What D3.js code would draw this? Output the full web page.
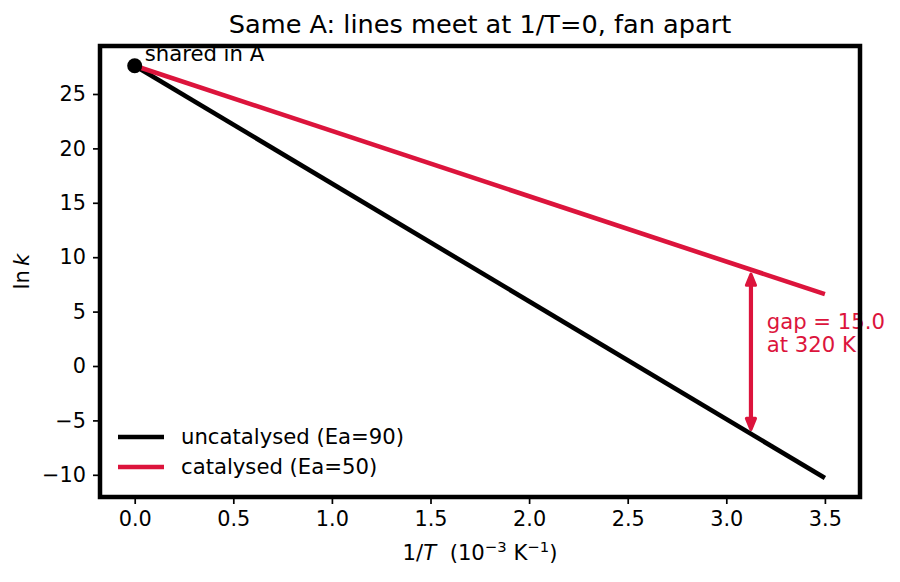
<!DOCTYPE html>
<html>
<head>
<meta charset="utf-8">
<script src="https://cdn.jsdelivr.net/npm/d3@7"></script>
<style>
html, body { margin: 0; padding: 0; background: #fff; }
svg text { font-family: "DejaVu Sans", sans-serif; }
</style>
</head>
<body>
<svg id="chart" width="900" height="582"></svg>
<script>
// ---- data ----
const invT = [0, 3.5];                 // 1/T (10^-3 K^-1)
const lnkUncat = [27.6, -10.3];        // uncatalysed (Ea=90)
const lnkCat = [27.6, 6.6];            // catalysed (Ea=50)
const seriesNames = ["uncatalysed (Ea=90)", "catalysed (Ea=50)"];
const sharedPoint = [0, 27.6];
const gapX = 3.125;                    // 320 K
const gapTop = 8.8;
const gapBottom = -6.2;
const gapLabel = ["gap = 15.0", "at 320 K"];
const labelX = 3.2;
const xTicks = [0, 0.5, 1.0, 1.5, 2.0, 2.5, 3.0, 3.5];
const yTicks = [-10, -5, 0, 5, 10, 15, 20, 25];

const black = "#000000", crimson = "#DC143C";
const svg = d3.select("#chart");
const L = 100, R = 860, T = 46, B = 497;
const FS = 21.2;

const x = d3.scaleLinear().domain([-0.176, 3.678]).range([L, R]);
const y = d3.scaleLinear().domain([-12.04, 29.41]).range([B, T]);

// title
svg.append("text").attr("x", (L + R) / 2).attr("y", 33)
  .attr("text-anchor", "middle").attr("font-size", 25.6)
  .text("Same A: lines meet at 1/T=0, fan apart");

// axes
const xAxis = d3.axisBottom(x).tickValues(xTicks).tickFormat(d3.format(".1f"))
  .tickSizeOuter(0).tickSize(7).tickPadding(7);
const yAxis = d3.axisLeft(y).tickValues(yTicks).tickFormat(d => d < 0 ? "\u2212" + Math.abs(d) : d)
  .tickSizeOuter(0).tickSize(7).tickPadding(7);
const gx = svg.append("g").attr("transform", `translate(0,${B})`).call(xAxis);
const gy = svg.append("g").attr("transform", `translate(${L},0)`).call(yAxis);
[gx, gy].forEach(g => {
  g.select(".domain").remove();
  g.selectAll(".tick line").attr("stroke", black).attr("stroke-width", 1.7);
  g.selectAll(".tick text").attr("font-size", 20.8).attr("fill", black)
    .style("font-family", '"DejaVu Sans", sans-serif');
});

// axis labels
const xl = svg.append("text").attr("x", (L + R) / 2).attr("y", 560)
  .attr("text-anchor", "middle").attr("font-size", FS);
xl.append("tspan").text("1/");
xl.append("tspan").attr("font-style", "italic").text("T");
xl.append("tspan").text("\u00a0\u00a0(10");
xl.append("tspan").attr("font-size", 14.8).attr("dy", -8).text("\u22123");
xl.append("tspan").attr("dy", 8).text(" K");
xl.append("tspan").attr("font-size", 14.8).attr("dy", -8).text("\u22121");
xl.append("tspan").attr("dy", 8).text(")");

const yl = svg.append("text").attr("transform", `translate(29,${(T + B) / 2}) rotate(-90)`)
  .attr("text-anchor", "middle").attr("font-size", FS);
yl.append("tspan").text("ln\u2009");
yl.append("tspan").attr("font-style", "italic").text("k");

// lines
const line = d3.line().x(d => x(d[0])).y(d => y(d[1]));
const dUncat = invT.map((v, i) => [v, lnkUncat[i]]);
const dCat = invT.map((v, i) => [v, lnkCat[i]]);
svg.append("path").datum(dUncat).attr("d", line).attr("fill", "none")
  .attr("stroke", black).attr("stroke-width", 4.6);
svg.append("path").datum(dCat).attr("d", line).attr("fill", "none")
  .attr("stroke", crimson).attr("stroke-width", 4.6);

// shared point
svg.append("circle").attr("cx", x(sharedPoint[0])).attr("cy", y(sharedPoint[1]))
  .attr("r", 7.5).attr("fill", black);
svg.append("text").attr("x", x(sharedPoint[0]) + 10).attr("y", 61)
  .attr("font-size", FS).text("shared in A");

// gap arrow
const ax = x(gapX), yt = y(gapTop) + 4, yb = y(gapBottom) - 4;
svg.append("line").attr("x1", ax).attr("x2", ax).attr("y1", yt + 6).attr("y2", yb - 6)
  .attr("stroke", crimson).attr("stroke-width", 4.2);
const head = (tip, dir) => `M${ax - 4.5},${tip + dir * 11}L${ax},${tip}L${ax + 4.5},${tip + dir * 11}Z`;
[[yt, 1], [yb, -1]].forEach(([t, d]) => {
  svg.append("path").attr("d", head(t, d)).attr("fill", crimson)
    .attr("stroke", crimson).attr("stroke-width", 3.2).attr("stroke-linejoin", "round");
});
const gl = svg.append("text").attr("x", x(labelX)).attr("font-size", FS).attr("fill", crimson);
gapLabel.forEach((t, i) => {
  gl.append("tspan").attr("x", x(labelX) + 1).attr("y", 329 + i * 23).text(t);
});

// legend
const leg = svg.append("g");
[[seriesNames[0], black, 437], [seriesNames[1], crimson, 467]].forEach(([name, c, yy]) => {
  leg.append("line").attr("x1", 118).attr("x2", 164).attr("y1", yy).attr("y2", yy)
    .attr("stroke", c).attr("stroke-width", 4.6);
  leg.append("text").attr("x", 181).attr("y", yy).attr("dy", "0.35em")
    .attr("font-size", FS).text(name);
});

// frame (drawn last, over text)
svg.append("rect").attr("x", L).attr("y", T).attr("width", R - L).attr("height", B - T)
  .attr("fill", "none").attr("stroke", black).attr("stroke-width", 4.5);
</script>
</body>
</html>
